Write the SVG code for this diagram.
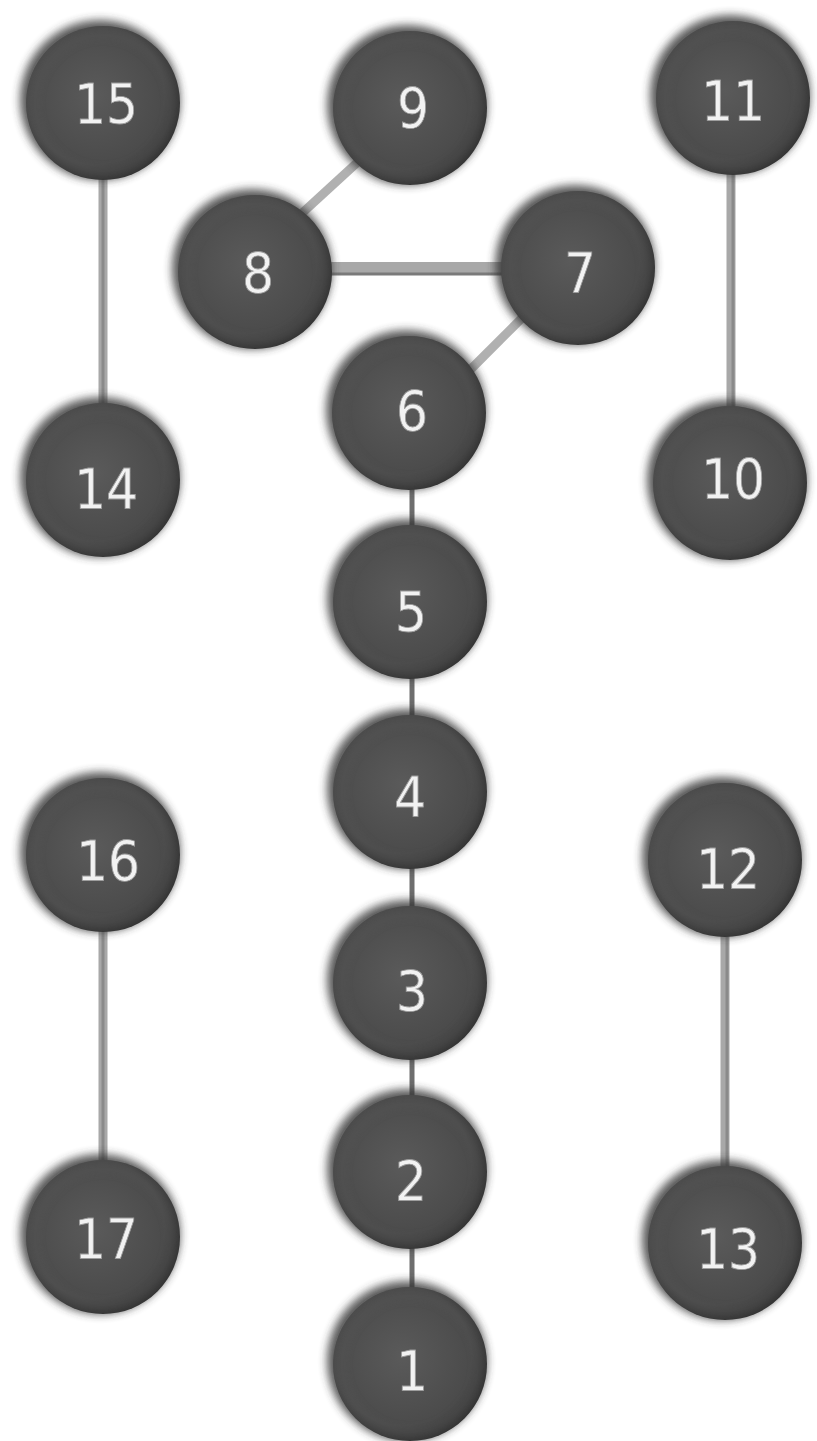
<svg xmlns="http://www.w3.org/2000/svg" width="817" height="1441" viewBox="0 0 817 1441">
<defs>
<radialGradient id="g" cx="0.45" cy="0.45" r="0.6">
<stop offset="0" stop-color="#5a5a5a"/>
<stop offset="0.75" stop-color="#4b4b4b"/>
<stop offset="1" stop-color="#2e2e2e"/>
</radialGradient>
<filter id="sh" x="-30%" y="-30%" width="160%" height="160%">
<feGaussianBlur stdDeviation="4"/>
</filter>
<g id="ball">
<circle cx="-3" cy="-3" r="80" fill="#333" filter="url(#sh)" opacity="0.8"/>
<circle r="77" fill="url(#g)"/>
<circle r="68" fill="none" stroke="#5e5e5e" stroke-width="3" opacity="0.6" filter="url(#sh)"/>
</g>
</defs>
<style>
.lbl{font-family:"DejaVu Sans Condensed","DejaVu Sans","Liberation Sans",sans-serif;font-stretch:condensed;font-size:56px;font-weight:300;fill:#f2f2f2;stroke:#9a9a9a;stroke-width:0.8;text-anchor:middle;dominant-baseline:central}
.side{stroke:#a8a8a8;stroke-width:9;fill:none}
.side2{stroke:#8a8a8a;stroke-width:3;fill:none}
.chain{stroke:#6e6e6e;stroke-width:5;fill:none}
.diag{stroke:#b0b0b0;stroke-width:9;fill:none}
</style>
<rect width="817" height="1441" fill="#ffffff"/>
<g id="connectors">
<line class="side" x1="103" y1="175" x2="103" y2="410"/>
<line class="side2" x1="103" y1="175" x2="103" y2="410"/>
<line class="side" x1="731" y1="170" x2="731" y2="412"/>
<line class="side2" x1="733" y1="170" x2="733" y2="412"/>
<line class="side" x1="103" y1="925" x2="103" y2="1165"/>
<line class="side2" x1="103" y1="925" x2="103" y2="1165"/>
<line class="side" x1="725" y1="930" x2="725" y2="1170"/>
<line class="side2" x1="727" y1="930" x2="727" y2="1170"/>
<line class="diag" x1="360" y1="160" x2="300" y2="215"/>
<line stroke="#a8a8a8" stroke-width="12" x1="320" y1="268" x2="510" y2="268"/>
<line stroke="#7a7a7a" stroke-width="3" x1="320" y1="274" x2="510" y2="274"/>
<line class="diag" x1="530" y1="310" x2="465" y2="375"/>
<line class="chain" x1="412" y1="470" x2="412" y2="1300"/>
</g>
<g id="n15"><use href="#ball" x="103" y="103"/><text class="lbl" x="106" y="103">15</text></g>
<g id="n9"><use href="#ball" x="410" y="108"/><text class="lbl" x="413" y="107">9</text></g>
<g id="n11"><use href="#ball" x="733" y="98"/><text class="lbl" x="733" y="100">11</text></g>
<g id="n8"><use href="#ball" x="255" y="272"/><text class="lbl" x="258" y="272">8</text></g>
<g id="n7"><use href="#ball" x="578" y="268"/><text class="lbl" x="580" y="272">7</text></g>
<g id="n6"><use href="#ball" x="409" y="413"/><text class="lbl" x="412" y="410">6</text></g>
<g id="n14"><use href="#ball" x="103" y="480"/><text class="lbl" x="106" y="488">14</text></g>
<g id="n10"><use href="#ball" x="730" y="483"/><text class="lbl" x="733" y="478">10</text></g>
<g id="n5"><use href="#ball" x="410" y="602"/><text class="lbl" x="411" y="611">5</text></g>
<g id="n4"><use href="#ball" x="410" y="792"/><text class="lbl" x="410" y="796">4</text></g>
<g id="n16"><use href="#ball" x="103" y="855"/><text class="lbl" x="108" y="860">16</text></g>
<g id="n12"><use href="#ball" x="725" y="860"/><text class="lbl" x="728" y="868">12</text></g>
<g id="n3"><use href="#ball" x="410" y="983"/><text class="lbl" x="412" y="990">3</text></g>
<g id="n2"><use href="#ball" x="410" y="1172"/><text class="lbl" x="411" y="1180">2</text></g>
<g id="n17"><use href="#ball" x="103" y="1237"/><text class="lbl" x="106" y="1238">17</text></g>
<g id="n13"><use href="#ball" x="725" y="1243"/><text class="lbl" x="728" y="1248">13</text></g>
<g id="n1"><use href="#ball" x="410" y="1364"/><text class="lbl" x="412" y="1370">1</text></g>
</svg>
